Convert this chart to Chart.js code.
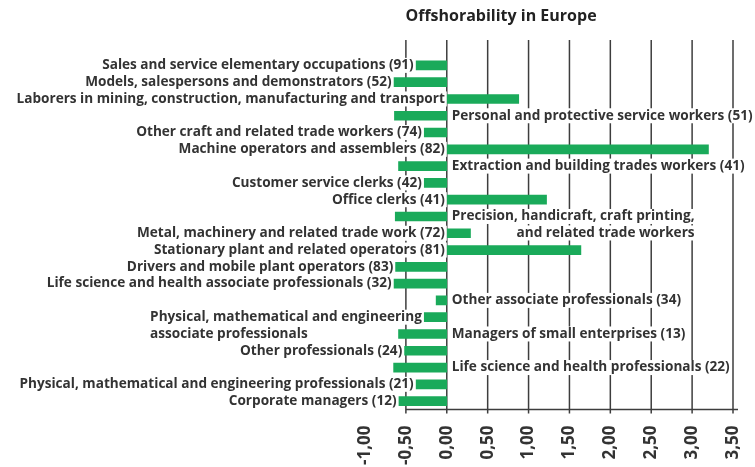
<!DOCTYPE html>
<html>
<head>
<meta charset="utf-8">
<script src="https://cdn.jsdelivr.net/npm/chart.js@4"></script>
<style>
  body { margin: 0; background: #fff; }
  #wrap { width: 755px; height: 467px; position: relative; }
</style>
</head>
<body>
<div id="wrap"><canvas id="offshoreChart"></canvas></div>
<script>
const categories = [
  "Sales and service elementary occupations (91)",
  "Models, salespersons and demonstrators (52)",
  "Laborers in mining, construction, manufacturing and transport",
  "Personal and protective service workers (51)",
  "Other craft and related trade workers (74)",
  "Machine operators and assemblers (82)",
  "Extraction and building trades workers (41)",
  "Customer service clerks (42)",
  "Office clerks (41)",
  ["Precision, handicraft, craft printing,", "and related trade workers"],
  "Metal, machinery and related trade work (72)",
  "Stationary plant and related operators (81)",
  "Drivers and mobile plant operators (83)",
  "Life science and health associate professionals (32)",
  "Other associate professionals (34)",
  ["Physical, mathematical and engineering", "associate professionals"],
  "Managers of small enterprises (13)",
  "Other professionals (24)",
  "Life science and health professionals (22)",
  "Physical, mathematical and engineering professionals (21)",
  "Corporate managers (12)"
];

const values = [
  -0.38, -0.65, 0.88, -0.64, -0.28, 3.20, -0.59, -0.28, 1.22, -0.63, 0.29,
  1.64, -0.63, -0.65, -0.13, -0.28, -0.59, -0.52, -0.65, -0.38, -0.59
];

// which side of the zero line each category label sits on
const labelSide = [
  "L", "L", "L", "R", "L", "L", "R", "L", "L", "R", "L",
  "L", "L", "L", "R", "L", "R", "L", "R", "L", "L"
];

const chartTitle = "Offshorability in Europe";
const FONT = "'Open Sans'";

const decor = {
  id: "decor",
  beforeDatasetsDraw(chart) {
    const { ctx, chartArea, scales: { x } } = chart;
    const top = chartArea.top - 17;
    const bottom = chartArea.bottom;
    ctx.save();
    ctx.strokeStyle = "#3d3d3d";
    ctx.lineWidth = 1.5;
    x.ticks.forEach(t => {
      if (t.value < -0.5) return;
      const px = x.getPixelForValue(t.value);
      ctx.beginPath();
      ctx.moveTo(px, top);
      ctx.lineTo(px, bottom + 4);
      ctx.stroke();
    });
    ctx.beginPath();
    ctx.moveTo(x.getPixelForValue(-0.5), bottom);
    ctx.lineTo(chartArea.right + 5, bottom);
    ctx.stroke();
    ctx.restore();
  },
  afterDatasetsDraw(chart) {
    const { ctx, scales: { x } } = chart;
    const zero = x.getPixelForValue(0);
    const meta = chart.getDatasetMeta(0);
    ctx.save();
    ctx.font = "bold 13.6px " + FONT;
    ctx.textBaseline = "middle";
    meta.data.forEach((bar, i) => {
      const lines = [].concat(categories[i]);
      const w = Math.max(...lines.map(l => ctx.measureText(l).width));
      const left = labelSide[i] === "L";
      const anchor = left ? Math.min(bar.x, bar.base) - 2 : zero + 5;
      const x0 = left ? anchor - w : anchor;
      lines.forEach((line, j) => {
        const y = bar.y + j * 16.5;
        const lw = ctx.measureText(line).width;
        const lx = left ? x0 : x0 + w - lw;
        ctx.fillStyle = "#fff";
        ctx.fillRect(lx - 2, y - 7.5, lw + 4, 15);
        ctx.fillStyle = "#333";
        ctx.textAlign = "left";
        ctx.fillText(line, lx, y);
      });
    });
    ctx.restore();
  },
  afterDraw(chart) {
    const { ctx } = chart;
    ctx.save();
    ctx.font = "bold 16px " + FONT;
    ctx.fillStyle = "#222";
    ctx.textAlign = "center";
    ctx.textBaseline = "middle";
    ctx.fillText(chartTitle, 501, 16);
    ctx.restore();
  }
};

new Chart(document.getElementById("offshoreChart").getContext("2d"), {
  type: "bar",
  data: {
    labels: categories,
    datasets: [{
      data: values,
      backgroundColor: "#1aaa5a",
      borderWidth: 0,
      barThickness: 9
    }]
  },
  options: {
    indexAxis: "y",
    responsive: true,
    maintainAspectRatio: false,
    animation: false,
    layout: { padding: { top: 57, left: 365, right: 22, bottom: -14 } },
    plugins: { legend: { display: false }, tooltip: { enabled: false } },
    scales: {
      y: { display: false },
      x: {
        min: -1,
        max: 3.5,
        grid: { display: false, drawTicks: false },
        border: { display: false },
        afterFit: scale => { scale.paddingLeft = 0; scale.paddingRight = 0; },
        ticks: {
          stepSize: 0.5,
          autoSkip: false,
          minRotation: 90,
          maxRotation: 90,
          padding: 16,
          color: "#333",
          font: { family: FONT, weight: "bold", size: 17 },
          callback: v => v.toFixed(2).replace(".", ",")
        }
      }
    }
  },
  plugins: [decor]
});
</script>
</body>
</html>
